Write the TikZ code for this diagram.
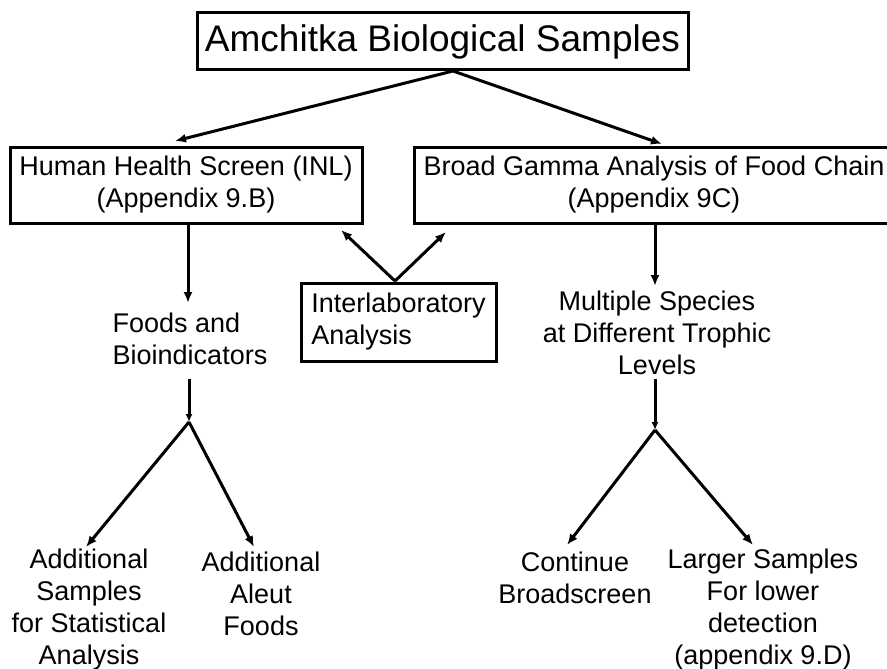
\documentclass[tikz,border=0pt]{standalone}
\usepackage{fontspec}
\setmainfont{Liberation Sans}
\usetikzlibrary{arrows.meta}
\begin{document}
\begin{tikzpicture}[x=1pt,y=-1pt,
  box/.style={draw,line width=3pt,inner sep=0pt,align=center},
  txt/.style={inner sep=0pt,align=center,font=\fontsize{27}{32}\selectfont},
  conn/.style={line width=3pt,-{Latex[length=11pt,width=9pt]}},
  small/.style={line width=3pt,-{Latex[length=8pt,width=7pt]}}]
\useasboundingbox (0,0) rectangle (887,669);
% nodes
\node[box,minimum width=491pt,minimum height=57pt,font=\fontsize{37}{40}\selectfont] (title) at (442.5,41.5) {Amchitka Biological Samples};
\node[box,minimum width=352pt,minimum height=76pt,font=\fontsize{27}{32}\selectfont] (hhs) at (186,185) {Human Health Screen (INL)\\(Appendix 9.B)};
\node[box,minimum width=480pt,minimum height=76pt,font=\fontsize{27}{32}\selectfont] (bga) at (654,185) {Broad Gamma Analysis of Food Chain\\(Appendix 9C)};
\node[box,minimum width=195pt,minimum height=78pt,align=left,font=\fontsize{27}{32}\selectfont] (inter) at (398.5,322) {Interlaboratory\\Analysis};
\node[txt,align=left] (foods) at (190,339) {Foods and\\Bioindicators};
\node[txt] (multi) at (657,333) {Multiple Species\\at Different Trophic\\Levels};
\node[txt] (addsam) at (89,609.5) {Additional\\Samples\\for Statistical\\Analysis};
\node[txt] (addaleut) at (261,593.5) {Additional\\Aleut\\Foods};
\node[txt] (cont) at (575,577.5) {Continue\\Broadscreen};
\node[txt] (larger) at (763,609.5) {Larger Samples\\For lower\\detection\\(appendix 9.D)};
% coordinates
\coordinate (apex) at (453,71);
\coordinate (tipL) at (175,141);
\coordinate (tipR) at (662,144);
\coordinate (hhsdown) at (188,303);
\coordinate (bgadown) at (655,286);
\coordinate (iapex) at (395,281);
\coordinate (itipL) at (341,230);
\coordinate (itipR) at (446,232);
\coordinate (splitL) at (189,422);
\coordinate (splitR) at (655,430);
\coordinate (foodsbot) at (189,379);
\coordinate (multibot) at (655,379);
\coordinate (tipA) at (86,547);
\coordinate (tipB) at (254,547);
\coordinate (tipC) at (567,545);
\coordinate (tipD) at (753,545);
% connectors
\draw[conn] (apex) -- (tipL);
\draw[conn] (apex) -- (tipR);
\draw[conn] (hhs.south -| hhsdown) -- (hhsdown);
\draw[conn] (bga.south -| bgadown) -- (bgadown);
\draw[conn] (iapex) -- (itipL);
\draw[conn] (iapex) -- (itipR);
\draw[small] (foodsbot) -- (splitL);
\draw[conn] (splitL) -- (tipA);
\draw[conn] (splitL) -- (tipB);
\draw[small] (multibot) -- (splitR);
\draw[conn] (splitR) -- (tipC);
\draw[conn] (splitR) -- (tipD);
\end{tikzpicture}
\end{document}
